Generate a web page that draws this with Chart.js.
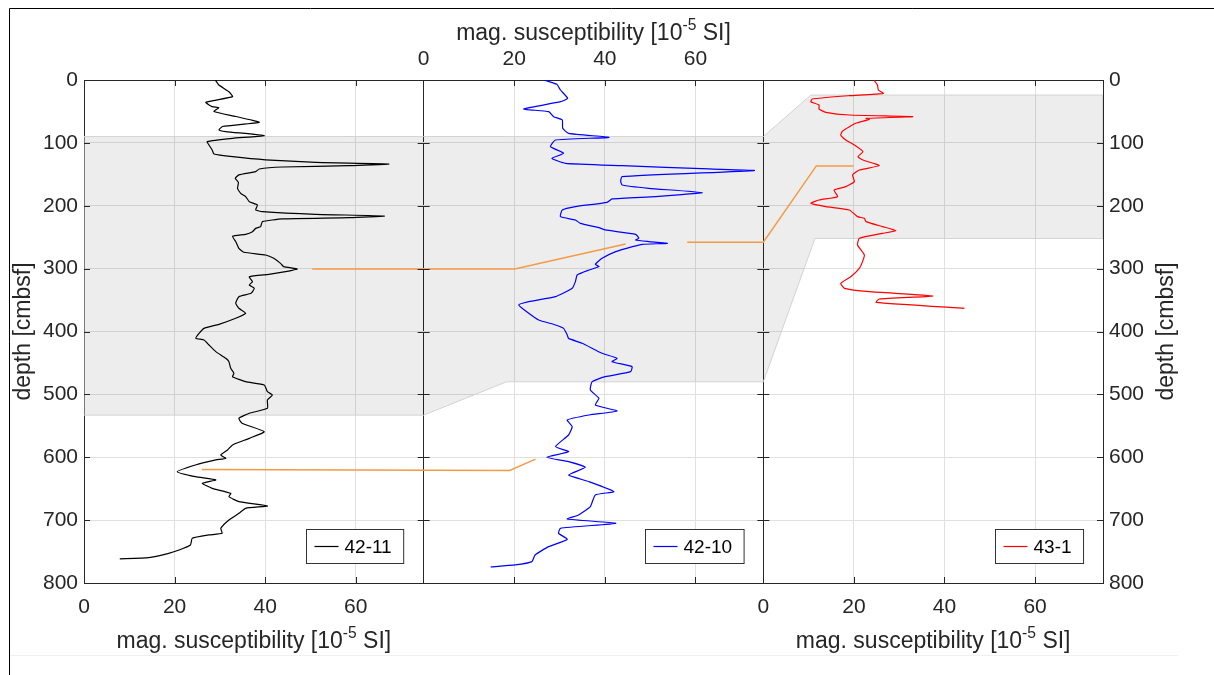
<!DOCTYPE html>
<html>
<head>
<meta charset="utf-8">
<script src="https://cdn.jsdelivr.net/npm/chart.js@4.4.1/dist/chart.umd.min.js"></script>
<style>
  html, body { margin: 0; background: #fff; }
</style>
</head>
<body>
<canvas id="magChart" width="1214" height="675"></canvas>
<script>
// core logs: [depth (cmbsf), mag. susceptibility (10^-5 SI)]
const core4211 = [[0,29],[8,29.8],[18.6,32],[26.5,32.8],[35.5,26.9],[42.4,28.3],[44,29.8],[50,28.7],[58,33.5],[67.3,38.7],[74,30.6],[79.5,29.8],[82,31.3],[88.5,39.8],[92.8,32.8],[98,27.2],[103.4,27.6],[111.3,28.3],[117.7,28.7],[122,32.8],[127,40.1],[131,51.2],[133.6,67.3],[136.2,58.6],[138.4,43.8],[141.5,38.7],[145.8,37.9],[151,34.2],[156.4,33.4],[162.7,34.1],[172.3,33.9],[180.2,34.6],[185.5,35.7],[193.5,36.5],[198.8,38.3],[206.7,37.9],[209.4,39.4],[213.6,51.2],[216.3,66.3],[219,58.6],[221,43.8],[225.3,39.4],[233.2,39],[236,37.9],[241.2,37.2],[245.4,35.7],[248.6,32.8],[257,33.5],[267.7,34.2],[274,35.3],[278.3,40.1],[283.6,41.9],[291.6,43.4],[296.9,44.1],[300.6,47.1],[304.8,44.5],[309,40.8],[312.8,36.5],[320.7,37.2],[326,36.5],[331.3,37.6],[339.3,36.9],[344.6,34.2],[355.2,33.5],[363.1,34.2],[371,35.7],[379,33.5],[388.6,29.8],[395,26.5],[403,25.4],[410.8,24.7],[413.5,26.5],[421.5,27.6],[432,29.1],[442.7,31.3],[448,32],[458.6,32.4],[466.5,33.1],[471.8,32.8],[479.8,35.7],[485.1,39.8],[495.7,40.5],[501,41.6],[508.9,40.5],[522.2,40.5],[530.1,36.5],[538,34.2],[546,34.9],[559.3,39.8],[569.9,36.5],[580.5,32.8],[588.4,31.7],[596.4,30.2],[601.7,31.3],[604.3,29.1],[612.3,24.6],[622.9,20.6],[630.9,24.6],[636.1,29.1],[641.5,26.1],[649.4,28.3],[657.4,32.4],[662.7,32],[670.6,34.2],[677.5,40.5],[681.2,35.7],[689.2,34.2],[699.8,32],[713,30.2],[721,30.5],[723.6,27.6],[728.9,23.9],[739.5,23.5],[747.5,21],[752.8,18.7],[759.7,14.3],[761.5,7.9]];

const core4210 = [[0,26.6],[6.9,29.4],[15.9,30.2],[29.2,31.8],[34.5,30.2],[46.1,22.1],[50.4,27.6],[58.3,28.7],[63.6,30.6],[76.9,30.7],[84.8,32],[91.2,40.9],[95.4,29.1],[106,28],[116.6,30.9],[124.6,28.3],[132.5,31.3],[136.2,43.8],[141.5,63],[144,73],[153.7,43.8],[160.6,43.5],[167,43.8],[172.3,49.7],[179.2,61.5],[185.5,51.2],[189.2,41.6],[194.6,40.5],[201.4,33.5],[206.7,30.6],[217.3,30.2],[222.6,33.5],[228,34.6],[234.8,38.7],[238.5,40.1],[245.4,46.8],[251.8,47.5],[254.5,46.8],[257,49.7],[259.8,53.8],[261.3,48.3],[265,46.1],[273,42.4],[283.6,39.4],[293.1,37.9],[296.9,38.7],[302.2,36.5],[310.1,33.9],[320.7,33.5],[331.3,32.8],[344.6,29.1],[352.5,23.2],[357.8,21],[371,23.2],[381.7,25.4],[389.6,29.1],[395,30.9],[405.5,31.7],[410.9,32],[418.8,35],[434.7,39.4],[442.7,42.7],[448,41.6],[455.9,46],[463.9,45.7],[471.8,40.1],[479.8,37.2],[493,36.8],[506.3,38.7],[516.9,37.9],[526.4,42.7],[532.8,36.5],[540.7,31.7],[551.3,32.8],[564.6,32],[583.1,29.1],[591.1,32],[600.1,27.2],[607,32],[616,35.7],[628.2,32],[638.8,36.5],[654.7,42],[660,37.9],[678.6,36.8],[691.8,34.2],[698.2,31.7],[705.1,42.4],[713,30.2],[721,29.8],[730.5,31.7],[742.2,27.6],[755.4,24.6],[766,23.9],[771.3,20.2],[774.5,14.8]];

const core431 = [[0,24.4],[8,25.2],[15.9,25.4],[21.2,26.5],[24.9,19],[30.2,10.8],[34.5,10.5],[39.8,12.3],[46.1,12.3],[51.4,13.8],[55.7,19],[58.3,33],[61,22.7],[62.6,23.4],[68.9,20.4],[81.1,17.5],[87.5,17.1],[95.4,18.2],[103.4,20.1],[114,22],[122,20.9],[127.2,22],[136.2,25.6],[143.1,21.2],[151.1,19.7],[161.7,20.1],[169.6,18.2],[175,15.6],[185.5,16.4],[190.8,12.3],[196.1,10.5],[201.4,13.8],[206.7,19],[217.3,20.8],[220,22.3],[225.3,22.7],[233.2,26.3],[239.6,29.3],[243.9,26.3],[251.8,21.2],[262.4,20.8],[278.3,22.3],[288.9,21.9],[299.5,21.2],[312.8,19.3],[323.4,17.1],[331.3,17.9],[336.6,23.4],[343.5,37.4],[348.3,25.6],[353.6,24.9],[363.1,44.4]];

const coreNames = ['42-11', '42-10', '43-1'];
const coreColors = ['#000000', '#0000ff', '#ff0000'];

// correlated interval and tie lines: [panel, susceptibility, depth]
const shadeOutline = [[0,0,90],[2,0,90],[2,10.5,24],[2,75,24],[2,75,252],[2,11.4,252],[2,0,480],[1,18.3,480],[1,0,533],[0,0,533],[0,0,90]];
const tieUpper = [[0,50.4,300.5],[1,20.1,300.5],[1,44.6,261]];
const tieMiddle = [[1,58.2,258],[2,0,258],[2,11.7,136.6],[2,19.9,136.6]];
const tieLower = [[0,26,619.5],[1,19,621],[1,24.7,603]];

// axes
const panelSpan = 75;
const susTicks = [0, 20, 40, 60];
const depthMax = 800;
const depthStep = 100;

const FONT = "'Liberation Sans', Arial, Helvetica, sans-serif";
const TEXT = '#262626';

const coreXY = (panel, rows) => rows.map(([d, s]) => ({ x: panel * panelSpan + s, y: d }));
const outlineXY = rows => rows.map(([p, s, d]) => ({ x: p * panelSpan + s, y: d }));

const datasets = [core4211, core4210, core431].map((rows, i) => ({
    label: coreNames[i],
    data: coreXY(i, rows),
    borderColor: coreColors[i],
    borderWidth: 1.2,
    tension: 0.15,
    order: 0
}));
[tieUpper, tieMiddle, tieLower].forEach(rows => datasets.push({
    label: 'tie',
    data: outlineXY(rows),
    borderColor: '#f39a45',
    borderWidth: 1.5,
    order: 5
}));
datasets.push({
    label: 'shade',
    data: outlineXY(shadeOutline),
    borderColor: '#d2d2d2',
    borderWidth: 1,
    backgroundColor: 'rgba(0,0,0,0.07)',
    fill: 'shape',
    order: 10
});

const bottomTicks = [];
const topTicks = [];
for (let p = 0; p < 3; p++) {
    susTicks.forEach(v => bottomTicks.push(p * panelSpan + v));
    if (p === 1) susTicks.forEach(v => topTicks.push(p * panelSpan + v));
}
bottomTicks.push(3 * panelSpan);

function supTitle(ctx, cx, baseline, size) {
    const parts = [['mag. susceptibility [10', size, 0], ['-5', size * 0.68, -size * 0.45], [' SI]', size, 0]];
    let w = 0;
    parts.forEach(p => { ctx.font = p[1] + 'px ' + FONT; w += ctx.measureText(p[0]).width; });
    let x = cx - w / 2;
    ctx.textAlign = 'left';
    ctx.textBaseline = 'alphabetic';
    parts.forEach(p => {
        ctx.font = p[1] + 'px ' + FONT;
        ctx.fillText(p[0], x, baseline + p[2]);
        x += ctx.measureText(p[0]).width;
    });
}

const decor = {
    id: 'decor',
    afterDraw(chart) {
        const { ctx, chartArea: a } = chart;
        const xs = chart.scales.x;
        const ys = chart.scales.y;
        ctx.save();

        // figure frame
        ctx.strokeStyle = '#000';
        ctx.lineWidth = 1;
        ctx.beginPath();
        ctx.moveTo(9.5, 675); ctx.lineTo(9.5, 8.5); ctx.lineTo(1214, 8.5);
        ctx.stroke();
        ctx.strokeStyle = '#f0f0f0';
        ctx.beginPath(); ctx.moveTo(10, 655.5); ctx.lineTo(1178, 655.5); ctx.stroke();

        // inward ticks
        ctx.strokeStyle = TEXT;
        ctx.beginPath();
        for (let p = 0; p < 3; p++) {
            susTicks.slice(1).forEach(v => {
                const px = Math.round(xs.getPixelForValue(p * panelSpan + v)) + 0.5;
                ctx.moveTo(px, a.bottom); ctx.lineTo(px, a.bottom - 6);
                ctx.moveTo(px, a.top); ctx.lineTo(px, a.top + 6);
            });
        }
        for (let d = depthStep; d < depthMax; d += depthStep) {
            const py = Math.round(ys.getPixelForValue(d)) + 0.5;
            for (let b = 0; b <= 3; b++) {
                const px = xs.getPixelForValue(b * panelSpan);
                ctx.moveTo(b === 0 ? px : px - 6, py);
                ctx.lineTo(b === 3 ? px : px + 6, py);
            }
        }
        ctx.stroke();

        // axis titles
        ctx.fillStyle = TEXT;
        const mid = p => (xs.getPixelForValue(p * panelSpan) + xs.getPixelForValue((p + 1) * panelSpan)) / 2;
        supTitle(ctx, mid(0), a.bottom + 65, 23);
        supTitle(ctx, mid(2), a.bottom + 65, 23);
        supTitle(ctx, mid(1), a.top - 40, 23);
        ctx.font = '23px ' + FONT;
        ctx.textAlign = 'center';
        ctx.textBaseline = 'middle';
        const cy = (a.top + a.bottom) / 2;
        [[a.left - 60, cy], [a.right + 64, cy]].forEach(([tx, ty]) => {
            ctx.save();
            ctx.translate(tx, ty);
            ctx.rotate(-Math.PI / 2);
            ctx.fillText('depth [cmbsf]', 0, 0);
            ctx.restore();
        });

        // one legend per panel
        ctx.font = '19px ' + FONT;
        coreNames.forEach((name, i) => {
            const tw = ctx.measureText(name).width;
            const w = 8 + 24 + 6 + tw + 12, h = 34;
            const right = xs.getPixelForValue((i + 1) * panelSpan) - 20;
            const bx = Math.round(right - w) + 0.5, by = Math.round(a.bottom - 20 - h) + 0.5;
            ctx.fillStyle = '#fff';
            ctx.fillRect(bx, by, w, h);
            ctx.strokeStyle = '#333';
            ctx.lineWidth = 1;
            ctx.strokeRect(bx, by, w, h);
            ctx.strokeStyle = coreColors[i];
            ctx.lineWidth = 1.2;
            ctx.beginPath();
            ctx.moveTo(bx + 8, by + h / 2); ctx.lineTo(bx + 32, by + h / 2);
            ctx.stroke();
            ctx.fillStyle = '#000';
            ctx.textAlign = 'left';
            ctx.textBaseline = 'middle';
            ctx.fillText(name, bx + 38, by + h / 2 + 1);
        });
        ctx.restore();
    }
};

const gridGray = '#e0e0e0';

new Chart(document.getElementById('magChart').getContext('2d'), {
    type: 'scatter',
    data: { datasets },
    options: {
        responsive: false,
        animation: false,
        events: [],
        showLine: true,
        elements: { point: { radius: 0 }, line: { fill: false } },
        layout: { padding: 0 },
        plugins: { legend: { display: false }, tooltip: { enabled: false } },
        scales: {
            x: {
                type: 'linear', position: 'bottom', min: 0, max: 3 * panelSpan,
                afterBuildTicks: s => { s.ticks = bottomTicks.map(v => ({ value: v })); },
                afterFit: s => { s.height = 92; },
                ticks: {
                    autoSkip: false, maxRotation: 0, padding: 12, color: TEXT,
                    font: { family: FONT, size: 21 },
                    callback: v => (v < panelSpan || (v >= 2 * panelSpan && v < 3 * panelSpan)) ? String(v % panelSpan) : ''
                },
                grid: {
                    drawTicks: false,
                    color: c => {
                        const v = c.tick ? c.tick.value : 0;
                        if (v === panelSpan || v === 2 * panelSpan) return TEXT;
                        return v % panelSpan === 0 ? 'rgba(0,0,0,0)' : gridGray;
                    }
                },
                border: { display: true, color: TEXT, width: 1 }
            },
            xTop: {
                type: 'linear', position: 'top', min: 0, max: 3 * panelSpan,
                afterBuildTicks: s => { s.ticks = topTicks.map(v => ({ value: v })); },
                afterFit: s => { s.height = 80; },
                ticks: {
                    autoSkip: false, maxRotation: 0, padding: 8, color: TEXT,
                    font: { family: FONT, size: 21 },
                    callback: v => String(v - panelSpan)
                },
                grid: { display: false, drawTicks: false },
                border: { display: true, color: TEXT, width: 1 }
            },
            y: {
                type: 'linear', position: 'left', reverse: true, min: 0, max: depthMax,
                afterFit: s => { s.width = 84; },
                ticks: { stepSize: depthStep, padding: 6, color: TEXT, font: { family: FONT, size: 21 } },
                grid: {
                    drawTicks: false,
                    color: c => (c.tick && c.tick.value > 0 && c.tick.value < depthMax) ? gridGray : 'rgba(0,0,0,0)'
                },
                border: { display: true, color: TEXT, width: 1 }
            },
            yRight: {
                type: 'linear', position: 'right', reverse: true, min: 0, max: depthMax,
                afterFit: s => { s.width = 111; },
                ticks: { stepSize: depthStep, padding: 6, color: TEXT, font: { family: FONT, size: 21 } },
                grid: { display: false, drawTicks: false },
                border: { display: true, color: TEXT, width: 1 }
            }
        }
    },
    plugins: [decor]
});
</script>
</body>
</html>
